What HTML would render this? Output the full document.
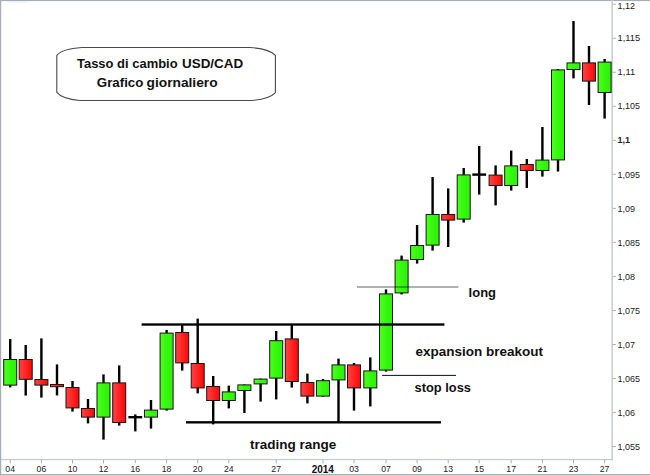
<!DOCTYPE html>
<html><head><meta charset="utf-8"><title>USD/CAD</title>
<style>
html,body{margin:0;padding:0;background:#fff;}
body{width:650px;height:475px;overflow:hidden;font-family:"Liberation Sans",sans-serif;}
svg{display:block;}
text{font-family:"Liberation Sans",sans-serif;}
</style></head><body>
<svg width="650" height="475" viewBox="0 0 650 475">
<defs>
<linearGradient id="g" x1="0" y1="0" x2="1" y2="0"><stop offset="0" stop-color="#50ff20"/><stop offset="0.5" stop-color="#34f80e"/><stop offset="1" stop-color="#2cf208"/></linearGradient>
<linearGradient id="r" x1="0" y1="0" x2="1" y2="0"><stop offset="0" stop-color="#ff4444"/><stop offset="1" stop-color="#ff0606"/></linearGradient>
</defs>
<rect x="0" y="0" width="650" height="475" fill="#ffffff"/>

<rect x="0" y="0" width="650" height="1.1" fill="#a4aeb6"/>
<rect x="0" y="0" width="1.2" height="475" fill="#a4aeb6"/>
<rect x="0" y="474" width="650" height="1" fill="#a4aeb6"/>
<rect x="7" y="1" width="20" height="1.3" fill="#e2f2fa"/>
<rect x="611.4" y="0" width="1.5" height="460.2" fill="#c3ccd2"/>
<rect x="1" y="458.9" width="611.9" height="1.3" fill="#c3ccd2"/>
<rect x="612.5" y="3.70" width="3.3" height="1" fill="#a6afb7"/>
<text x="617.6" y="9" font-size="9.6" fill="#222" textLength="17.51" lengthAdjust="spacingAndGlyphs">1,12</text>
<rect x="612.5" y="37.73" width="3.3" height="1" fill="#a6afb7"/>
<text x="617.6" y="41" font-size="9.6" fill="#222" textLength="22.52" lengthAdjust="spacingAndGlyphs">1,115</text>
<rect x="612.5" y="71.76" width="3.3" height="1" fill="#a6afb7"/>
<text x="617.6" y="75" font-size="9.6" fill="#222" textLength="17.51" lengthAdjust="spacingAndGlyphs">1,11</text>
<rect x="612.5" y="105.79" width="3.3" height="1" fill="#a6afb7"/>
<text x="617.6" y="109" font-size="9.6" fill="#222" textLength="22.52" lengthAdjust="spacingAndGlyphs">1,105</text>
<rect x="612.5" y="139.82" width="3.3" height="1" fill="#a6afb7"/>
<text x="617.6" y="143" font-size="9.6" fill="#222" font-weight="bold" textLength="12.51" lengthAdjust="spacingAndGlyphs">1,1</text>
<rect x="612.5" y="173.85" width="3.3" height="1" fill="#a6afb7"/>
<text x="617.6" y="178" font-size="9.6" fill="#222" textLength="22.52" lengthAdjust="spacingAndGlyphs">1,095</text>
<rect x="612.5" y="207.88" width="3.3" height="1" fill="#a6afb7"/>
<text x="617.6" y="212" font-size="9.6" fill="#222" textLength="17.51" lengthAdjust="spacingAndGlyphs">1,09</text>
<rect x="612.5" y="241.91" width="3.3" height="1" fill="#a6afb7"/>
<text x="617.6" y="246" font-size="9.6" fill="#222" textLength="22.52" lengthAdjust="spacingAndGlyphs">1,085</text>
<rect x="612.5" y="275.94" width="3.3" height="1" fill="#a6afb7"/>
<text x="617.6" y="280" font-size="9.6" fill="#222" textLength="17.51" lengthAdjust="spacingAndGlyphs">1,08</text>
<rect x="612.5" y="309.97" width="3.3" height="1" fill="#a6afb7"/>
<text x="617.6" y="314" font-size="9.6" fill="#222" textLength="22.52" lengthAdjust="spacingAndGlyphs">1,075</text>
<rect x="612.5" y="344.00" width="3.3" height="1" fill="#a6afb7"/>
<text x="617.6" y="348" font-size="9.6" fill="#222" textLength="17.51" lengthAdjust="spacingAndGlyphs">1,07</text>
<rect x="612.5" y="378.03" width="3.3" height="1" fill="#a6afb7"/>
<text x="617.6" y="382" font-size="9.6" fill="#222" textLength="22.52" lengthAdjust="spacingAndGlyphs">1,065</text>
<rect x="612.5" y="412.06" width="3.3" height="1" fill="#a6afb7"/>
<text x="617.6" y="416" font-size="9.6" fill="#222" textLength="17.51" lengthAdjust="spacingAndGlyphs">1,06</text>
<rect x="612.5" y="446.09" width="3.3" height="1" fill="#a6afb7"/>
<text x="617.6" y="450" font-size="9.6" fill="#222" textLength="22.52" lengthAdjust="spacingAndGlyphs">1,055</text>
<rect x="9.70" y="460" width="1" height="3.3" fill="#a6afb7"/>
<text x="10.20" y="472.3" font-size="8.7" fill="#222" text-anchor="middle">04</text>
<rect x="40.90" y="460" width="1" height="3.3" fill="#a6afb7"/>
<text x="41.40" y="472.3" font-size="8.7" fill="#222" text-anchor="middle">06</text>
<rect x="72.00" y="460" width="1" height="3.3" fill="#a6afb7"/>
<text x="72.50" y="472.3" font-size="8.7" fill="#222" text-anchor="middle">10</text>
<rect x="103.00" y="460" width="1" height="3.3" fill="#a6afb7"/>
<text x="103.50" y="472.3" font-size="8.7" fill="#222" text-anchor="middle">12</text>
<rect x="134.80" y="460" width="1" height="3.3" fill="#a6afb7"/>
<text x="135.30" y="472.3" font-size="8.7" fill="#222" text-anchor="middle">16</text>
<rect x="166.10" y="460" width="1" height="3.3" fill="#a6afb7"/>
<text x="166.60" y="472.3" font-size="8.7" fill="#222" text-anchor="middle">18</text>
<rect x="197.20" y="460" width="1" height="3.3" fill="#a6afb7"/>
<text x="197.70" y="472.3" font-size="8.7" fill="#222" text-anchor="middle">20</text>
<rect x="228.30" y="460" width="1" height="3.3" fill="#a6afb7"/>
<text x="228.80" y="472.3" font-size="8.7" fill="#222" text-anchor="middle">24</text>
<rect x="275.70" y="460" width="1" height="3.3" fill="#a6afb7"/>
<text x="276.20" y="472.3" font-size="8.7" fill="#222" text-anchor="middle">27</text>
<rect x="322.50" y="460" width="1" height="3.3" fill="#a6afb7"/>
<text x="311.70" y="473" font-size="10" fill="#111" font-weight="bold">2014</text>
<rect x="353.50" y="460" width="1" height="3.3" fill="#a6afb7"/>
<text x="354.00" y="472.3" font-size="8.7" fill="#222" text-anchor="middle">03</text>
<rect x="385.50" y="460" width="1" height="3.3" fill="#a6afb7"/>
<text x="386.00" y="472.3" font-size="8.7" fill="#222" text-anchor="middle">07</text>
<rect x="416.60" y="460" width="1" height="3.3" fill="#a6afb7"/>
<text x="417.10" y="472.3" font-size="8.7" fill="#222" text-anchor="middle">09</text>
<rect x="447.70" y="460" width="1" height="3.3" fill="#a6afb7"/>
<text x="448.20" y="472.3" font-size="8.7" fill="#222" text-anchor="middle">13</text>
<rect x="478.70" y="460" width="1" height="3.3" fill="#a6afb7"/>
<text x="479.20" y="472.3" font-size="8.7" fill="#222" text-anchor="middle">15</text>
<rect x="510.70" y="460" width="1" height="3.3" fill="#a6afb7"/>
<text x="511.20" y="472.3" font-size="8.7" fill="#222" text-anchor="middle">17</text>
<rect x="541.90" y="460" width="1" height="3.3" fill="#a6afb7"/>
<text x="542.40" y="472.3" font-size="8.7" fill="#222" text-anchor="middle">21</text>
<rect x="573.00" y="460" width="1" height="3.3" fill="#a6afb7"/>
<text x="573.50" y="472.3" font-size="8.7" fill="#222" text-anchor="middle">23</text>
<rect x="604.10" y="460" width="1" height="3.3" fill="#a6afb7"/>
<text x="604.60" y="472.3" font-size="8.7" fill="#222" text-anchor="middle">27</text>
<rect x="9.00" y="339.00" width="2.4" height="48.40" fill="#000"/>
<rect x="3.70" y="359.50" width="13.0" height="25.60" fill="url(#g)" stroke="#141414" stroke-width="1"/>
<rect x="24.50" y="345.00" width="2.4" height="50.60" fill="#000"/>
<rect x="19.20" y="359.50" width="13.0" height="19.80" fill="url(#r)" stroke="#141414" stroke-width="1"/>
<rect x="40.20" y="338.40" width="2.4" height="59.20" fill="#000"/>
<rect x="34.90" y="379.50" width="13.0" height="5.60" fill="url(#r)" stroke="#141414" stroke-width="1"/>
<rect x="55.80" y="364.40" width="2.4" height="31.00" fill="#000"/>
<rect x="50.50" y="384.50" width="13.0" height="2.20" fill="url(#r)" stroke="#141414" stroke-width="1"/>
<rect x="71.30" y="381.00" width="2.4" height="30.60" fill="#000"/>
<rect x="66.00" y="387.50" width="13.0" height="20.40" fill="url(#r)" stroke="#141414" stroke-width="1"/>
<rect x="86.80" y="399.00" width="2.4" height="24.40" fill="#000"/>
<rect x="81.50" y="408.50" width="13.0" height="8.60" fill="url(#r)" stroke="#141414" stroke-width="1"/>
<rect x="102.30" y="374.40" width="2.4" height="65.20" fill="#000"/>
<rect x="97.00" y="382.90" width="13.0" height="34.20" fill="url(#g)" stroke="#141414" stroke-width="1"/>
<rect x="118.00" y="365.40" width="2.4" height="60.20" fill="#000"/>
<rect x="112.70" y="382.90" width="13.0" height="39.60" fill="url(#r)" stroke="#141414" stroke-width="1"/>
<rect x="134.10" y="414.40" width="2.4" height="17.00" fill="#000"/>
<rect x="128.40" y="416.00" width="13.8" height="2.4" fill="#000"/>
<rect x="149.80" y="400.00" width="2.4" height="28.60" fill="#000"/>
<rect x="144.50" y="410.10" width="13.0" height="7.00" fill="url(#g)" stroke="#141414" stroke-width="1"/>
<rect x="165.40" y="330.00" width="2.4" height="80.60" fill="#000"/>
<rect x="160.10" y="333.10" width="13.0" height="76.00" fill="url(#g)" stroke="#141414" stroke-width="1"/>
<rect x="181.00" y="324.00" width="2.4" height="46.60" fill="#000"/>
<rect x="175.70" y="332.50" width="13.0" height="30.40" fill="url(#r)" stroke="#141414" stroke-width="1"/>
<rect x="196.50" y="318.60" width="2.4" height="74.80" fill="#000"/>
<rect x="191.20" y="363.50" width="13.0" height="24.40" fill="url(#r)" stroke="#141414" stroke-width="1"/>
<rect x="212.00" y="376.00" width="2.4" height="48.40" fill="#000"/>
<rect x="206.70" y="386.50" width="13.0" height="14.00" fill="url(#r)" stroke="#141414" stroke-width="1"/>
<rect x="227.60" y="385.60" width="2.4" height="22.80" fill="#000"/>
<rect x="222.30" y="391.90" width="13.0" height="8.60" fill="url(#g)" stroke="#141414" stroke-width="1"/>
<rect x="243.20" y="384.40" width="2.4" height="28.60" fill="#000"/>
<rect x="237.90" y="384.90" width="13.0" height="5.60" fill="url(#g)" stroke="#141414" stroke-width="1"/>
<rect x="259.40" y="378.60" width="2.4" height="23.00" fill="#000"/>
<rect x="254.10" y="379.10" width="13.0" height="4.80" fill="url(#g)" stroke="#141414" stroke-width="1"/>
<rect x="275.00" y="331.00" width="2.4" height="68.40" fill="#000"/>
<rect x="269.70" y="340.70" width="13.0" height="37.40" fill="url(#g)" stroke="#141414" stroke-width="1"/>
<rect x="290.60" y="324.00" width="2.4" height="63.60" fill="#000"/>
<rect x="285.30" y="338.90" width="13.0" height="42.60" fill="url(#r)" stroke="#141414" stroke-width="1"/>
<rect x="306.20" y="373.60" width="2.4" height="29.80" fill="#000"/>
<rect x="300.90" y="382.50" width="13.0" height="13.60" fill="url(#r)" stroke="#141414" stroke-width="1"/>
<rect x="321.80" y="379.00" width="2.4" height="17.60" fill="#000"/>
<rect x="316.50" y="380.70" width="13.0" height="15.40" fill="url(#g)" stroke="#141414" stroke-width="1"/>
<rect x="337.30" y="358.60" width="2.4" height="63.40" fill="#000"/>
<rect x="332.00" y="364.90" width="13.0" height="15.00" fill="url(#g)" stroke="#141414" stroke-width="1"/>
<rect x="352.80" y="363.00" width="2.4" height="47.60" fill="#000"/>
<rect x="347.50" y="364.90" width="13.0" height="23.00" fill="url(#r)" stroke="#141414" stroke-width="1"/>
<rect x="369.10" y="357.40" width="2.4" height="49.00" fill="#000"/>
<rect x="363.80" y="370.90" width="13.0" height="17.00" fill="url(#g)" stroke="#141414" stroke-width="1"/>
<rect x="384.80" y="289.40" width="2.4" height="82.20" fill="#000"/>
<rect x="379.50" y="293.90" width="13.0" height="76.20" fill="url(#g)" stroke="#141414" stroke-width="1"/>
<rect x="400.40" y="255.60" width="2.4" height="38.80" fill="#000"/>
<rect x="395.10" y="260.10" width="13.0" height="32.80" fill="url(#g)" stroke="#141414" stroke-width="1"/>
<rect x="415.90" y="225.00" width="2.4" height="38.60" fill="#000"/>
<rect x="410.60" y="245.50" width="13.0" height="14.00" fill="url(#g)" stroke="#141414" stroke-width="1"/>
<rect x="431.40" y="177.00" width="2.4" height="73.60" fill="#000"/>
<rect x="426.10" y="214.50" width="13.0" height="30.60" fill="url(#g)" stroke="#141414" stroke-width="1"/>
<rect x="447.00" y="188.40" width="2.4" height="58.60" fill="#000"/>
<rect x="441.70" y="214.50" width="13.0" height="5.60" fill="url(#r)" stroke="#141414" stroke-width="1"/>
<rect x="462.50" y="168.00" width="2.4" height="54.60" fill="#000"/>
<rect x="457.20" y="174.90" width="13.0" height="44.20" fill="url(#g)" stroke="#141414" stroke-width="1"/>
<rect x="478.00" y="146.00" width="2.4" height="48.60" fill="#000"/>
<rect x="472.30" y="173.40" width="13.8" height="2.4" fill="#000"/>
<rect x="494.40" y="165.40" width="2.4" height="40.00" fill="#000"/>
<rect x="489.10" y="175.10" width="13.0" height="10.40" fill="url(#r)" stroke="#141414" stroke-width="1"/>
<rect x="510.00" y="150.60" width="2.4" height="40.00" fill="#000"/>
<rect x="504.70" y="165.90" width="13.0" height="19.60" fill="url(#g)" stroke="#141414" stroke-width="1"/>
<rect x="525.60" y="159.00" width="2.4" height="29.00" fill="#000"/>
<rect x="520.30" y="164.50" width="13.0" height="6.00" fill="url(#r)" stroke="#141414" stroke-width="1"/>
<rect x="541.20" y="127.00" width="2.4" height="49.60" fill="#000"/>
<rect x="535.90" y="160.10" width="13.0" height="10.40" fill="url(#g)" stroke="#141414" stroke-width="1"/>
<rect x="556.80" y="69.00" width="2.4" height="102.60" fill="#000"/>
<rect x="551.50" y="69.90" width="13.0" height="90.00" fill="url(#g)" stroke="#141414" stroke-width="1"/>
<rect x="572.30" y="21.00" width="2.4" height="57.40" fill="#000"/>
<rect x="567.00" y="62.90" width="13.0" height="6.60" fill="url(#g)" stroke="#141414" stroke-width="1"/>
<rect x="587.80" y="46.00" width="2.4" height="59.00" fill="#000"/>
<rect x="582.50" y="62.90" width="13.0" height="18.20" fill="url(#r)" stroke="#141414" stroke-width="1"/>
<rect x="603.40" y="59.00" width="2.4" height="59.60" fill="#000"/>
<rect x="598.10" y="62.10" width="13.0" height="30.40" fill="url(#g)" stroke="#141414" stroke-width="1"/>
<rect x="141.6" y="323.35" width="302.8" height="2.35" fill="#000"/>
<rect x="186" y="421.15" width="255" height="2.35" fill="#000"/>
<rect x="357" y="286.5" width="101.4" height="1" fill="#000" fill-opacity="0.62"/>
<rect x="382" y="374.9" width="74" height="1" fill="#111"/>
<text x="468.6" y="297" font-size="13.5" font-weight="bold" fill="#111" textLength="27.4" lengthAdjust="spacingAndGlyphs">long</text>
<text x="415.4" y="356" font-size="13.5" font-weight="bold" fill="#111" textLength="127.6" lengthAdjust="spacingAndGlyphs">expansion breakout</text>
<text x="414.6" y="392" font-size="13.5" font-weight="bold" fill="#111" textLength="56.4" lengthAdjust="spacingAndGlyphs">stop loss</text>
<text x="250" y="449" font-size="13.5" font-weight="bold" fill="#111" textLength="86.4" lengthAdjust="spacingAndGlyphs">trading range</text>
<path d="M82,47.5 H250 C262,48.3 271.5,51 275.4,55.3 V92.6 C271.5,96.8 262,99.6 252,100.5 H79.5 C69,99.6 60.5,96.8 56.8,92.4 V55.3 C60.5,51 70,48.3 82,47.5 Z" fill="#fff" stroke="#4a4a4a" stroke-width="1.1" stroke-linejoin="miter"/>
<text x="77.0" y="68" font-size="13" font-weight="bold" fill="#111" textLength="100.6" lengthAdjust="spacingAndGlyphs">Tasso di cambio</text>
<text x="182" y="68" font-size="13" font-weight="bold" fill="#111" textLength="61.2" lengthAdjust="spacingAndGlyphs">USD/CAD</text>
<text x="96.8" y="87" font-size="13" font-weight="bold" fill="#111" textLength="46.6" lengthAdjust="spacingAndGlyphs">Grafico</text>
<text x="146.5" y="87" font-size="13" font-weight="bold" fill="#111" textLength="71.1" lengthAdjust="spacingAndGlyphs">giornaliero</text>
</svg></body></html>
